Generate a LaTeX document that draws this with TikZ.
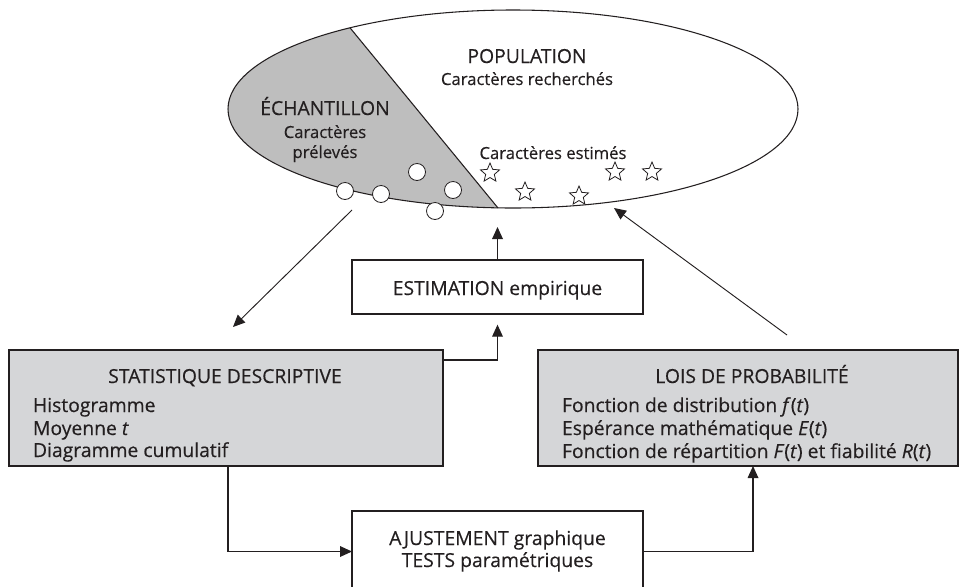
\documentclass[tikz,border=0pt]{standalone}
\usepackage{fontspec}
\setmainfont{Open Sans}[FakeBold=0.35]
\usetikzlibrary{shapes.geometric,arrows.meta,calc}
\definecolor{ellgray}{RGB}{190,190,190}
\definecolor{boxgray}{RGB}{213,214,216}
\definecolor{ink}{RGB}{35,31,32}
\tikzset{
  box/.style={draw=ink, line width=1pt, inner sep=0pt, outer sep=0pt, anchor=north west},
  graybox/.style={box, fill=boxgray},
  arr/.style={draw=ink, line width=0.9pt, -{Triangle[length=9pt,width=8pt]}},
  thin arr/.style={draw=ink, line width=0.7pt, -{Triangle[length=9pt,width=8pt]}},
  lbl/.style={inner sep=0pt, outer sep=0pt, text=ink, anchor=base, font=\fontsize{14.5pt}{17pt}\selectfont},
  lbll/.style={lbl, anchor=base west},
  sub/.style={lbl, font=\fontsize{12.5pt}{15pt}\selectfont},
  dot/.style={circle, draw=ink, fill=white, line width=0.6pt, minimum size=12.75pt, inner sep=0pt},
  starmark/.style={star, star points=5, star point ratio=2.2, draw=ink, fill=white, line width=0.6pt, minimum size=15pt, inner sep=0pt}
}
\begin{document}
\begin{tikzpicture}[x=0.75pt,y=-0.75pt]
\clip (0,0) rectangle (962,586);
% ellipse with sampled part
\begin{scope}
  \clip (513,109) ellipse [x radius=285, y radius=99];
  \fill[ellgray] (320.4,-8.2) -- (527.6,244) -- (200,244) -- (200,-8.2) -- cycle;
\end{scope}
\node[draw=ink, ellipse, line width=0.8pt, minimum width=427.5pt, minimum height=148.5pt, inner sep=0pt, outer sep=0pt] (pop) at (513,109) {};
\draw[ink, line width=0.8pt] (350,27.8) -- (498,208);
% texts in ellipse
\node[lbl] (poptitle) at (527,63) {POPULATION};
\node[sub] (popsub) at (527,85) {Caractères recherchés};
\node[lbl] (echtitle) at (325,115) {ÉCHANTILLON};
\node[sub] (echsub1) at (325,138) {Caractères};
\node[sub] (echsub2) at (325,158) {prélevés};
\node[sub] (estsub) at (553,159) {Caractères estimés};
% sample circles
\node[dot] (c1) at (345,191) {};
\node[dot] (c2) at (381,194) {};
\node[dot] (c3) at (417,172) {};
\node[dot] (c4) at (453,190) {};
\node[dot] (c5) at (435,211) {};
% stars
\node[starmark] (s1) at (490,173) {};
\node[starmark] (s2) at (525,192) {};
\node[starmark] (s3) at (579,196) {};
\node[starmark] (s4) at (615,172) {};
\node[starmark] (s5) at (652,172) {};
% boxes
\node[box, minimum width=218.25pt, minimum height=40.5pt] (est) at (352,260) {};
\node[lbl] (esttxt) at (497.5,295) {ESTIMATION empirique};
\node[graybox, minimum width=325.5pt, minimum height=87pt] (sd) at (9,350) {};
\node[lbl] (sdtitle) at (225,383) {STATISTIQUE DESCRIPTIVE};
\node[lbll] (sd1) at (33,412) {Histogramme};
\node[lbll] (sd2) at (33,435) {Moyenne \textit{t}};
\node[lbll] (sd3) at (33,457) {Diagramme cumulatif};
\node[graybox, minimum width=315pt, minimum height=87pt] (lp) at (538,350) {};
\node[lbl] (lptitle) at (752,383) {LOIS DE PROBABILITÉ};
\node[lbll] (lp1) at (562,412) {Fonction de distribution \textit{f}(\textit{t})};
\node[lbll] (lp2) at (562,435) {Espérance mathématique \textit{E}(\textit{t})};
\node[lbll] (lp3) at (562,458) {Fonction de répartition \textit{F}(\textit{t}) et fiabilité \textit{R}(\textit{t})};
\node[box, minimum width=218.25pt, minimum height=60.75pt] (adj) at (352,511) {};
\node[lbl] (adj1) at (497.5,545) {AJUSTEMENT graphique};
\node[lbl] (adj2) at (497.5,567) {TESTS paramétriques};
% connector end points
\coordinate (popin) at (497.5,227);
\coordinate (echout) at (352,210);
\coordinate (sdin) at (233,327);
\coordinate (lpout) at (787,335);
\coordinate (popest) at (614,208);
% connectors
\draw[arr] (est.north) -- (popin);
\draw[thin arr] (echout) -- (sdin);
\draw[thin arr] (lpout) -- (popest);
\draw[arr] ($(sd.north east)+(0,10)$) -| ([yshift=-8pt]est.south);
\draw[arr] ([xshift=164.25pt]sd.south west) |- (adj.west);
\draw[arr] (adj.east) -| ([xshift=161.25pt]lp.south west);
\end{tikzpicture}
\end{document}
